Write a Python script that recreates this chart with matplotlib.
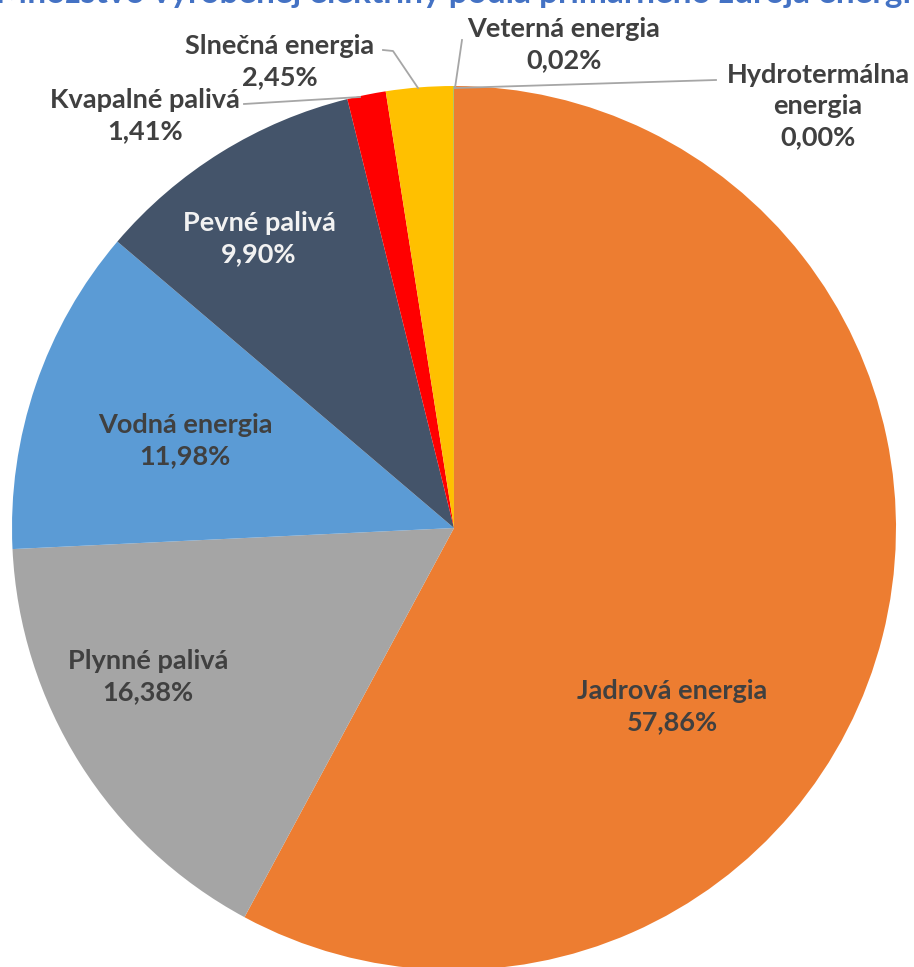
import matplotlib.pyplot as plt

title = 'Množstvo vyrobenej elektriny podľa primárneho zdroja energie'
categories = ['Jadrová energia', 'Plynné palivá', 'Vodná energia', 'Pevné palivá',
              'Kvapalné palivá', 'Slnečná energia', 'Veterná energia', 'Hydrotermálna\nenergia']
shares = [57.86, 16.38, 11.98, 9.90, 1.41, 2.45, 0.02, 0.00]
colors = ['#ED7D31', '#A5A5A5', '#5B9BD5', '#44546A', '#FF0000', '#FFC000', '#70AD47', '#264478']

plt.rcParams['font.family'] = ['Lato', 'DejaVu Sans']

fig = plt.figure(figsize=(9.14, 9.67), dpi=100)
ax = fig.add_axes([0, 0, 1, 1])

# pixel space of the picture: centre of the pie at (454, 528)
cx, cy = 454, 528
ax.pie(shares, colors=colors, startangle=90, counterclock=False, radius=442,
       center=(0, 0), wedgeprops=dict(linewidth=0))
ax.set_xlim(-cx, 914 - cx)
ax.set_ylim(-(967 - cy), cy)
ax.set_aspect('equal')
ax.axis('off')

def px(x, y):
    return x - cx, cy - y

# label centres in picture pixels
label_pos = [(672, 707), (148, 677), (185, 441), (259, 239),
             (145, 116), (280, 62), (564, 45), (818, 106)]
label_col = ['#404040'] * 3 + ['#F2F2F2'] + ['#404040'] * 4
for name, val, (x, y), c in zip(categories, shares, label_pos, label_col):
    txt = '%s\n%s%%' % (name, ('%.2f' % val).replace('.', ','))
    ax.text(*px(x, y), txt, ha='center', va='center', fontsize=19.5,
            fontweight='bold', color=c, linespacing=1.36)

# leader lines
lc = '#A6A6A6'
leaders = [
    [(383, 50), (393, 51), (418, 88)],     # Slnečná
    [(244, 104), (360, 97)],               # Kvapalné
    [(462, 40), (455, 88)],                # Veterná
    [(455, 88), (716, 80)],                # Hydrotermálna
]
for pts in leaders:
    xs, ys = zip(*[px(x, y) for x, y in pts])
    ax.plot(xs, ys, color=lc, lw=1.3)

# title sits mostly above the top edge, as in the cropped original
ax.text(*px(462, 3), title, ha='center', va='baseline', fontsize=24,
        fontweight='bold', color='#4472C4', clip_on=False)

fig.savefig('out.png', dpi=100)
